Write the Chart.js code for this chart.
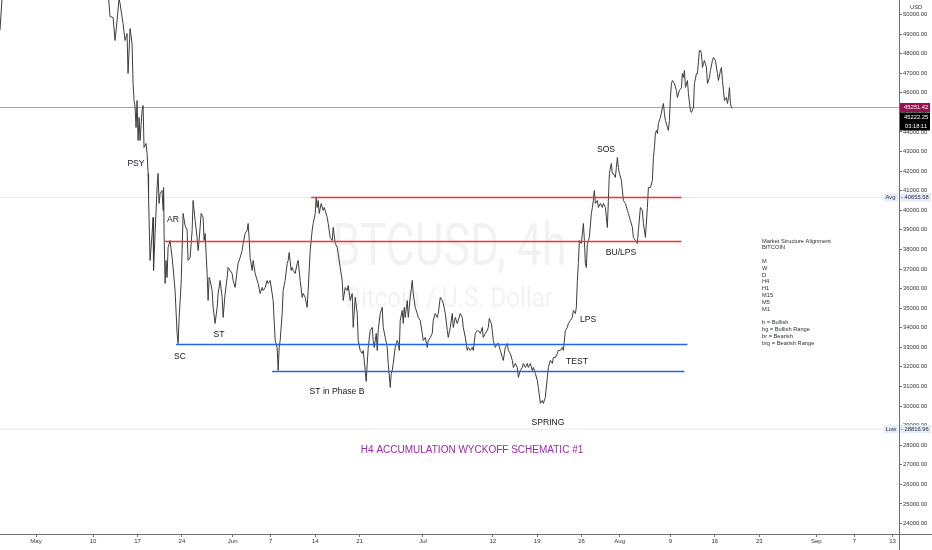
<!DOCTYPE html>
<html><head><meta charset="utf-8">
<script src="https://cdn.jsdelivr.net/npm/chart.js@4.4.1/dist/chart.umd.min.js"></script>
<style>html,body{margin:0;padding:0;background:#fff;overflow:hidden}#wrap{width:932px;height:550px;position:relative}</style>
</head><body><div id="wrap"><canvas id="c" width="932" height="550"></canvas></div>
<script>
// ---- DATA (days since 2021-05-01, price in USD) ----
const priceDays = [-5.68,-5.2,-4,-1,2,5,8,10,11,11.4,11.67,12.15,12.46,12.78,13.09,13.25,13.72,14.04,14.35,14.51,14.83,15.14,15.30,15.46,15.62,15.77,15.93,16.09,16.25,16.40,16.72,16.88,17.03,17.35,17.51,17.67,17.74,17.98,18.30,18.45,18.53,18.77,19.09,19.24,19.40,19.56,19.87,20.03,20.11,20.19,20.35,20.50,20.66,20.82,21.14,21.45,21.61,21.92,22.24,22.40,22.56,22.87,23.03,23.19,23.50,23.82,23.97,24.29,24.61,24.76,25.08,25.39,25.55,25.71,26.03,26.34,26.50,26.66,26.97,27.13,27.29,27.44,27.76,27.92,28.23,28.55,28.71,29.02,29.34,29.50,29.81,30.13,30.28,30.60,30.91,31.07,31.39,31.70,31.86,32.18,32.49,32.65,32.97,33.28,33.44,33.60,33.75,34.07,34.23,34.54,34.86,35.02,35.33,35.65,35.80,36.12,36.44,36.59,36.91,37.22,37.38,37.70,38.01,38.17,38.33,38.49,38.80,38.96,39.27,39.59,39.75,39.91,40.22,40.38,40.54,40.85,41.17,41.32,41.64,41.96,42.11,42.43,42.74,42.90,43.22,43.53,43.69,44.01,44.16,44.32,44.48,44.64,44.95,45.27,45.43,45.58,45.90,46.06,46.37,46.69,46.85,47.16,47.48,47.63,47.95,48.26,48.42,48.74,49.05,49.21,49.53,49.84,50.00,50.32,50.63,50.79,51.10,51.42,51.58,51.89,52.05,52.21,52.37,52.68,53.00,53.15,53.31,53.63,53.79,53.94,54.26,54.57,54.73,55.05,55.36,55.52,55.84,55.99,56.15,56.31,56.62,56.94,57.10,57.26,57.41,57.73,57.89,58.04,58.20,58.52,58.68,58.99,59.31,59.46,59.78,60.09,60.25,60.57,60.88,61.04,61.36,61.67,61.83,62.15,62.46,62.62,62.93,63.25,63.41,63.72,64.04,64.20,64.51,64.83,64.98,65.30,65.62,65.77,66.09,66.40,66.56,66.88,67.19,67.35,67.67,67.98,68.14,68.45,68.77,68.93,69.24,69.56,69.72,70.03,70.35,70.50,70.82,71.14,71.29,71.45,71.77,71.92,72.08,72.40,72.71,72.87,73.19,73.50,73.66,73.97,74.29,74.45,74.76,75.08,75.24,75.55,75.87,76.03,76.34,76.66,76.81,77.13,77.44,77.60,77.92,78.23,78.39,78.71,79.02,79.18,79.50,79.81,79.97,80.28,80.60,80.76,81.07,81.39,81.55,81.86,82.18,82.33,82.65,82.97,83.12,83.44,83.75,83.91,84.23,84.54,84.70,85.02,85.17,85.33,85.49,85.65,85.96,86.12,86.28,86.44,86.59,86.75,86.91,87.07,87.22,87.54,87.70,87.85,88.01,88.17,88.49,88.64,88.96,89.27,89.43,89.75,90.06,90.22,90.38,90.69,90.85,91.01,91.32,91.48,91.64,91.80,91.96,92.27,92.43,92.59,92.90,93.22,93.38,93.69,94.01,94.16,94.48,94.79,94.95,95.27,95.58,95.74,96.06,96.37,96.53,96.85,97.16,97.32,97.48,97.63,97.79,97.95,98.11,98.42,98.74,98.90,99.05,99.21,99.53,99.68,99.84,100.00,100.16,100.32,100.63,100.95,101.10,101.42,101.74,101.89,102.05,102.21,102.37,102.68,102.84,103.15,103.31,103.63,103.79,104.10,104.26,104.57,104.73,104.89,105.05,105.21,105.36,105.68,105.84,106.15,106.31,106.62,106.78,107.10,107.41,107.57,107.89,108.04,108.20,108.36,108.52,108.83,108.99,109.15,109.31,109.46,109.62,109.78];
const priceValues = [49200,51600,54200,56800,57300,56400,58200,56300,53000,51000,49898,49847,48672,49694,50800,50562,49540,48672,49030,46987,49285,48519,46476,45608,45250,44229,45608,43565,44740,43565,45097,45352,43208,43412,42902,41880,40655,37437,38816,39633,36926,38816,41165,41880,40348,40859,41012,39990,41165,38816,36262,37437,36569,38101,38458,37590,37079,35905,33709,33198,34526,36262,37947,39837,39224,38969,37437,37590,38969,40501,39480,38611,37947,38458,39837,39633,38458,38816,36773,35394,36569,36415,35905,35037,34220,35037,35752,36415,35547,34526,35752,36569,37079,36926,36773,36415,36057,36926,37284,37590,37947,38305,38816,38969,39327,38561,37590,36926,37437,36773,36415,36262,35752,36057,35905,36057,36415,36262,36415,35752,35394,33351,32994,31819,32994,33351,34730,35905,36415,37284,37437,37845,36926,37079,36926,36773,37284,37437,36415,35547,35752,35547,35037,35905,37947,38969,39327,39837,40655,40144,40501,39837,40348,39990,40144,39990,39633,39327,38612,38458,39122,38305,38101,37794,37079,36415,35394,36057,35905,36160,35394,35752,34016,35547,34730,33351,32841,32688,32841,31819,31257,32177,32994,33862,34016,33351,32994,33709,32841,33862,34730,35037,34016,33504,32994,32177,30951,31666,31819,32177,32994,33351,33198,32841,34373,34883,34220,35037,34526,35394,34526,35547,36415,35752,35037,34730,34526,34373,33709,33351,33504,32994,33351,33504,33709,34373,34730,34526,34730,35547,35394,35241,34730,33862,33504,34016,34730,34016,34526,34220,34373,34730,34526,34016,33504,32841,32994,32841,32994,32841,33709,33862,33862,33709,34016,33504,33709,33862,34016,34475,34220,33862,33351,32994,33198,33198,32841,32483,32330,32994,33198,32841,32688,32330,31972,32177,31972,31461,31819,31972,32177,31972,32177,31972,32177,31819,31972,31666,31308,30951,30134,30287,30134,30440,31461,31972,32330,32177,32483,32483,32688,32841,32841,32994,32841,33862,34016,34220,34373,34526,34883,34730,35037,36415,37284,38458,38305,38816,39327,38458,37284,37079,38305,38458,38612,39837,40144,40501,41012,40348,40501,40144,40348,40144,40348,40144,39122,40501,41880,42391,41880,41880,41676,42187,42697,42187,41880,41522,41012,40501,40348,39990,39837,39480,39122,38612,38458,38305,38969,40144,39990,39327,38612,40144,41165,41165,41522,42697,43208,43923,44076,43923,44434,44740,45250,45455,44944,44587,44229,44076,44587,45761,46476,46629,46476,46119,45761,46119,46272,46987,46783,47140,46272,46629,45965,45097,44995,45250,46476,46987,46987,48162,48162,48009,47294,47498,47651,47294,46476,46783,47140,47651,47804,47651,46987,46629,47140,47294,46629,46119,45608,45761,45455,45761,46272,45455,45250,45222];

const tickDays   = [0,9,16,23,31,37,44,51,61,72,79,86,92,100,107,114,123,129,135];
const tickLabels = ['May','10','17','24','Jun','7','14','21','Jul','12','19','26','Aug','9','16','23','Sep','7','13'];
const yTickValues = [24000,25000,26000,27000,28000,29000,30000,31000,32000,33000,34000,35000,36000,37000,38000,39000,40000,41000,42000,43000,44000,45000,46000,47000,48000,49000,50000];

// horizontal range levels: start day, end day, price
const levelStart = [43.38, 20.35, 22.08, 37.22];
const levelEnd   = [101.74, 101.74, 102.68, 102.21];
const levelPrice = [40656, 38408, 33147, 31768];
const levelKind  = ['resistance','resistance','support','support'];

const lastPrice = 45251.42, closePrice = 45222.25, avgPrice = 40655.58, lowPrice = 28816.96;
const countdown = '03:18:11';

// Wyckoff annotations (day, price)
const annText  = ['PSY','AR','SC','ST','ST in Phase B','SPRING','TEST','LPS','BU/LPS','SOS'];
const annDay   = [15.76, 21.60, 22.70, 28.85, 47.45, 80.71, 85.28, 87.01, 92.21, 89.85];
const annPrice = [42364, 39503, 32505, 33629, 30717, 29134, 32250, 34395, 37818, 43079];
const titleText = 'H4 ACCUMULATION WYCKOFF SCHEMATIC #1';
const titleDay = 68.73, titlePrice = 27755;

const msaLines = ['Market Structure Alignment','BITCOIN','','M','W','D','H4','H1','M15','M5','M1','','b = Bullish','bg = Bullish Range','br = Bearish','brg = Bearish Range'];
const wmMain = 'BTCUSD, 4h', wmSub = 'Bitcoin / U.S. Dollar';

// ---- CHART ----
const X_MIN = -5.675, X_MAX = 136.03, Y_MIN = 23464, Y_MAX = 50741;
const FONT = "'Liberation Sans', Arial, sans-serif";
const levelColor = k => k === 'resistance' ? '#f0332b' : '#2962e8';

const datasets = [];
levelPrice.forEach((p, i) => datasets.push({
  data: [{x: levelStart[i], y: p}, {x: levelEnd[i], y: p}],
  borderColor: levelColor(levelKind[i]), borderWidth: 1.6, pointRadius: 0, order: 0
}));
datasets.push({
  data: priceDays.map((d, i) => ({x: d, y: priceValues[i]})),
  borderColor: '#3c3c3c', borderWidth: 1, pointRadius: 0, tension: 0, order: 1
});
[[lastPrice,'#a3a3a3'],[avgPrice,'#e6e8ec'],[lowPrice,'#e6e8ec']].forEach(([p,c]) => datasets.push({
  data: [{x: X_MIN - 1, y: p}, {x: X_MAX + 1, y: p}],
  borderColor: c, borderWidth: 1, pointRadius: 0, order: 2
}));

const watermark = {
  id: 'watermark',
  beforeDatasetsDraw(chart) {
    const {ctx, chartArea} = chart;
    const cx = (chartArea.left + chartArea.right) / 2;
    ctx.save();
    ctx.fillStyle = 'rgba(0,0,0,0.05)';
    ctx.textAlign = 'center'; ctx.textBaseline = 'alphabetic';
    ctx.font = '60px Roboto';
    let w = ctx.measureText(wmMain).width;
    ctx.save(); ctx.translate(cx, 265); ctx.scale(234 / w, 1); ctx.fillText(wmMain, 0, 0); ctx.restore();
    ctx.font = '27px Roboto';
    w = ctx.measureText(wmSub).width;
    ctx.save(); ctx.translate(cx, 307); ctx.scale(207 / w, 1); ctx.fillText(wmSub, 0, 0); ctx.restore();
    ctx.restore();
  }
};

function box(ctx, x, y, w, h, bg) { ctx.fillStyle = bg; ctx.fillRect(x, y, w, h); }

const overlay = {
  id: 'overlay',
  afterDraw(chart) {
    const {ctx, scales: {x, y}, chartArea} = chart;
    ctx.save();
    // axis lines
    ctx.strokeStyle = '#6e6e6e'; ctx.lineWidth = 1;
    ctx.beginPath();
    ctx.moveTo(Math.round(chartArea.right) + 0.5, 0); ctx.lineTo(Math.round(chartArea.right) + 0.5, 550);
    ctx.moveTo(0, Math.round(chartArea.bottom) + 0.5); ctx.lineTo(932, Math.round(chartArea.bottom) + 0.5);
    ctx.stroke();

    // annotations
    ctx.fillStyle = '#131722';
    ctx.font = '8.6px ' + FONT;
    ctx.textAlign = 'center'; ctx.textBaseline = 'middle';
    annText.forEach((t, i) => ctx.fillText(t, x.getPixelForValue(annDay[i]), y.getPixelForValue(annPrice[i])));
    ctx.fillStyle = '#9c27b0';
    ctx.font = '10px ' + FONT;
    ctx.fillText(titleText, x.getPixelForValue(titleDay), y.getPixelForValue(titlePrice));

    // market structure block
    ctx.fillStyle = '#2a2e39';
    ctx.font = '5.7px ' + FONT;
    ctx.textAlign = 'left';
    msaLines.forEach((t, i) => { if (t) ctx.fillText(t, 762, 241 + i * 6.8); });

    // axis labels
    const ax = Math.round(chartArea.right) + 1;
    ctx.font = '5.8px ' + FONT;
    ctx.fillStyle = '#333'; ctx.textAlign = 'left';
    ctx.fillText('USD', 910, 7);
    // last price
    let py = y.getPixelForValue(lastPrice);
    box(ctx, ax, py - 4.5, 30, 9, '#95124e');
    ctx.fillStyle = '#fff'; ctx.fillText(lastPrice.toFixed(2), ax + 4, py);
    box(ctx, ax, py + 5, 30, 18, '#000');
    ctx.fillStyle = '#fff';
    ctx.fillText(closePrice.toFixed(2), ax + 4, py + 10);
    ctx.fillText(countdown, ax + 5, py + 18.5);
    // avg / low
    [['Avg', avgPrice], ['Low', lowPrice]].forEach(([lbl, p]) => {
      const yy = y.getPixelForValue(p);
      box(ctx, ax - 16, yy - 4, 14, 8, '#e3ecf8');
      box(ctx, ax, yy - 4, 31, 8, '#e3ecf8');
      ctx.fillStyle = '#2a2e39';
      ctx.fillText(lbl, ax - 14.5, yy);
      ctx.fillText('- ' + p.toFixed(2), ax + 1, yy);
    });
    ctx.restore();
  }
};

new Chart(document.getElementById('c'), {
  type: 'line',
  data: {datasets},
  options: {
    responsive: false, animation: false, events: [],
    layout: {padding: 0},
    plugins: {legend: {display: false}, tooltip: {enabled: false}},
    scales: {
      x: {
        type: 'linear', position: 'bottom', min: X_MIN, max: X_MAX,
        grid: {drawOnChartArea: false, drawTicks: true, tickLength: 3, color: '#6e6e6e'},
        border: {display: false},
        afterBuildTicks: a => { a.ticks = tickDays.map(v => ({value: v})); },
        afterFit: s => { s.height = 16; s.paddingLeft = 0; s.paddingRight = 0; },
        ticks: {autoSkip: false, maxRotation: 0, padding: 1, color: '#333',
          font: {size: 6, family: FONT},
          callback: (v, i) => tickLabels[i]}
      },
      y: {
        type: 'linear', position: 'right', min: Y_MIN, max: Y_MAX,
        grid: {drawOnChartArea: false, drawTicks: true, tickLength: 3, color: '#6e6e6e'},
        border: {display: false},
        afterBuildTicks: a => { a.ticks = yTickValues.map(v => ({value: v})); },
        afterFit: s => { s.width = 33; s.paddingTop = 0; s.paddingBottom = 0; },
        ticks: {autoSkip: false, padding: 1, color: '#333',
          font: {size: 5.8, family: FONT},
          callback: v => v.toFixed(2)}
      }
    }
  },
  plugins: [watermark, overlay]
});
</script></body></html>
